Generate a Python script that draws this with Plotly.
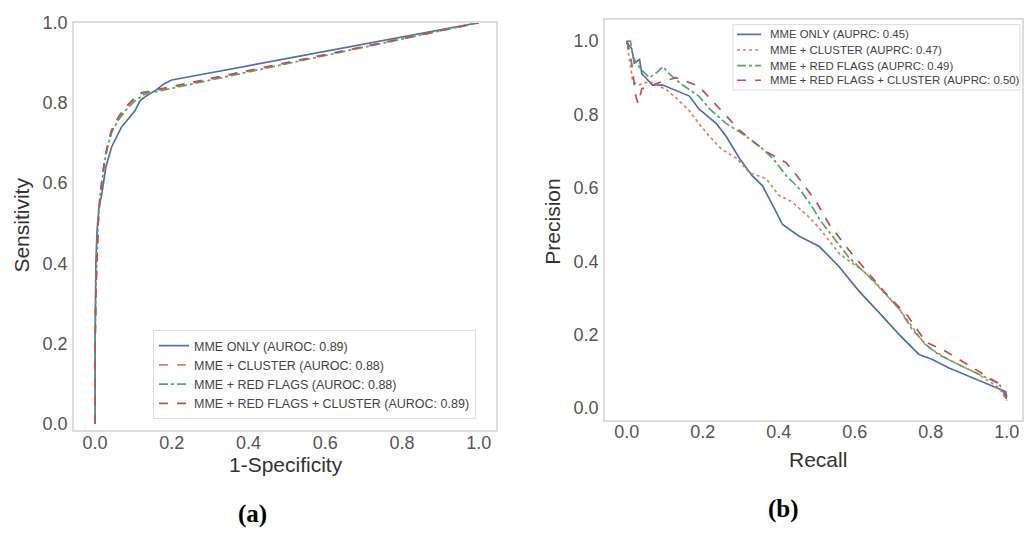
import plotly.graph_objects as go

# ROC curves (panel a)
roc_fpr_mme = [0, 0.0, 0.002, 0.005, 0.01, 0.017, 0.028, 0.043, 0.069, 0.09, 0.104, 0.117, 0.13, 0.156, 0.18, 0.2, 1.0]
roc_tpr_mme = [0, 0.2, 0.4, 0.48, 0.54, 0.57, 0.64, 0.69, 0.74, 0.765, 0.78, 0.805, 0.815, 0.83, 0.848, 0.857, 1.0]

roc_fpr_cluster = [0, 0.0, 0.002, 0.004, 0.008, 0.013, 0.02, 0.026, 0.035, 0.043, 0.055, 0.065, 0.085, 0.104, 0.115, 1.0]
roc_tpr_cluster = [0, 0.2, 0.33, 0.40, 0.5, 0.57, 0.63, 0.665, 0.7, 0.728, 0.752, 0.768, 0.792, 0.81, 0.822, 1.0]

roc_fpr_flags = [0, 0.0, 0.002, 0.004, 0.008, 0.013, 0.02, 0.026, 0.035, 0.043, 0.055, 0.065, 0.085, 0.104, 0.13, 1.0]
roc_tpr_flags = [0, 0.2, 0.33, 0.40, 0.5, 0.57, 0.625, 0.66, 0.7, 0.725, 0.748, 0.763, 0.787, 0.805, 0.822, 1.0]

roc_fpr_all = [0, 0.0, 0.002, 0.004, 0.008, 0.013, 0.02, 0.026, 0.035, 0.043, 0.055, 0.065, 0.085, 0.104, 0.12, 1.0]
roc_tpr_all = [0, 0.2, 0.33, 0.40, 0.5, 0.57, 0.63, 0.667, 0.705, 0.732, 0.755, 0.771, 0.795, 0.813, 0.825, 1.0]

# Precision-recall curves (panel b)
pr_rec_mme = [0, 0.005, 0.013, 0.02, 0.034, 0.04, 0.05, 0.068, 0.095, 0.13, 0.165, 0.19, 0.236, 0.262, 0.297,
              0.33, 0.357, 0.384, 0.41, 0.454, 0.507, 0.559, 0.61, 0.664, 0.717, 0.769, 0.803, 0.848, 0.927, 0.997, 1.0]
pr_prec_mme = [1.0, 0.99, 0.98, 0.94, 0.95, 0.91, 0.9, 0.88, 0.88, 0.865, 0.85, 0.815, 0.775, 0.74, 0.68,
               0.633, 0.606, 0.553, 0.5, 0.468, 0.44, 0.385, 0.32, 0.26, 0.2, 0.146, 0.133, 0.109, 0.074, 0.045, 0.03]

pr_rec_cluster = [0, 0.004, 0.01, 0.016, 0.03, 0.06, 0.105, 0.13, 0.165, 0.19, 0.218, 0.25, 0.29, 0.323, 0.367,
                  0.4, 0.436, 0.48, 0.507, 0.56, 0.63, 0.717, 0.787, 0.85, 0.92, 0.98, 1.0]
pr_prec_cluster = [1.0, 0.97, 0.925, 0.89, 0.88, 0.89, 0.867, 0.845, 0.81, 0.775, 0.74, 0.705, 0.68, 0.641, 0.625,
                   0.58, 0.561, 0.52, 0.49, 0.42, 0.367, 0.27, 0.17, 0.13, 0.095, 0.055, 0.02]

pr_rec_flags = [0, 0.01, 0.016, 0.025, 0.04, 0.06, 0.08, 0.095, 0.113, 0.147, 0.19, 0.218, 0.262, 0.305, 0.35,
                0.385, 0.42, 0.454, 0.49, 0.51, 0.585, 0.656, 0.717, 0.75, 0.787, 0.82, 0.89, 0.98, 1.0]
pr_prec_flags = [1.0, 1.0, 0.96, 0.94, 0.92, 0.9, 0.915, 0.93, 0.91, 0.88, 0.85, 0.815, 0.775, 0.747, 0.713,
                 0.68, 0.633, 0.598, 0.545, 0.51, 0.41, 0.34, 0.27, 0.216, 0.173, 0.146, 0.11, 0.066, 0.025]

pr_rec_all = [0, 0.008, 0.013, 0.02, 0.024, 0.03, 0.04, 0.06, 0.095, 0.13, 0.157, 0.19, 0.218, 0.262, 0.297,
              0.34, 0.375, 0.42, 0.454, 0.5, 0.533, 0.585, 0.63, 0.68, 0.74, 0.787, 0.84, 0.91, 0.98, 0.998, 1.0]
pr_prec_all = [1.0, 0.97, 0.94, 0.89, 0.85, 0.83, 0.87, 0.877, 0.89, 0.9, 0.89, 0.877, 0.845, 0.795, 0.757,
               0.72, 0.694, 0.668, 0.625, 0.56, 0.5, 0.43, 0.375, 0.314, 0.25, 0.18, 0.154, 0.11, 0.066, 0.03, 0.01]

roc_names = ["MME ONLY (AUROC: 0.89)", "MME + CLUSTER (AUROC: 0.88)",
             "MME + RED FLAGS (AUROC: 0.88)", "MME + RED FLAGS + CLUSTER (AUROC: 0.89)"]
pr_names = ["MME ONLY (AUPRC: 0.45)", "MME + CLUSTER (AUPRC: 0.47)",
            "MME + RED FLAGS (AUPRC: 0.49)", "MME + RED FLAGS + CLUSTER (AUPRC: 0.50)"]
tick_vals = [0.0, 0.2, 0.4, 0.6, 0.8, 1.0]
tick_text = ["0.0", "0.2", "0.4", "0.6", "0.8", "1.0"]

colors = ["#4C72B0", "#DD8452", "#55A868", "#C44E52"]
roc_dash = ["solid", "dash", "dashdot", "dash"]
pr_dash = ["solid", "dot", "dashdot", "dash"]

FONT = "Liberation Sans, Arial, sans-serif"
W, H = 1024, 533


def px(x):
    return x / W


def py(y):
    return 1 - y / H


fig = go.Figure()

roc_series = [(roc_fpr_mme, roc_tpr_mme), (roc_fpr_cluster, roc_tpr_cluster),
              (roc_fpr_flags, roc_tpr_flags), (roc_fpr_all, roc_tpr_all)]
for i, (xs, ys) in enumerate(roc_series):
    fig.add_trace(go.Scatter(x=xs, y=ys, mode="lines", name=roc_names[i],
                             line=dict(color=colors[i], width=1.7, dash=roc_dash[i]),
                             xaxis="x", yaxis="y", legend="legend"))

pr_series = [(pr_rec_mme, pr_prec_mme), (pr_rec_cluster, pr_prec_cluster),
             (pr_rec_flags, pr_prec_flags), (pr_rec_all, pr_prec_all)]
for i, (xs, ys) in enumerate(pr_series):
    fig.add_trace(go.Scatter(x=xs, y=ys, mode="lines", name=pr_names[i], showlegend=False,
                             line=dict(color=colors[i], width=1.7, dash=pr_dash[i]),
                             xaxis="x2", yaxis="y2"))

axis_common = dict(showgrid=False, zeroline=False, showline=True, mirror=True,
                   linecolor="#dddddd", linewidth=1.5, ticks="", ticklen=0,
                   tickvals=tick_vals, ticktext=tick_text,
                   tickfont=dict(family=FONT, size=18, color="#555555"))

fig.update_layout(
    width=W, height=H,
    margin=dict(l=0, r=0, t=0, b=0),
    paper_bgcolor="white", plot_bgcolor="white",
    font=dict(family=FONT),
    xaxis=dict(domain=[px(74), px(496)], range=[-0.055, 1.045], anchor="y",
               ticklabelstandoff=-5, **axis_common),
    yaxis=dict(domain=[py(431), py(13)], range=[-0.017, 1.0], anchor="x",
               ticklabelstandoff=1, **axis_common),
    xaxis2=dict(domain=[px(605), px(1022)], range=[-0.057, 1.04], anchor="y2",
                ticklabelstandoff=-5, **axis_common),
    yaxis2=dict(domain=[py(420), py(10)], range=[-0.032, 1.058], anchor="x2",
                ticklabelstandoff=1, **axis_common),
    legend=dict(x=px(153), y=py(328), xanchor="left", yanchor="top",
                bgcolor="white", bordercolor="#dddddd", borderwidth=1,
                font=dict(family=FONT, size=12.5, color="#444444"), tracegroupgap=0),
    showlegend=True,
)

# Legend box for the precision-recall panel
leg_left, leg_right, leg_top, leg_bottom = 733, 1020, 15, 82
fig.add_shape(type="rect", xref="paper", yref="paper", layer="above",
              x0=px(leg_left), x1=px(leg_right), y0=py(leg_bottom), y1=py(leg_top),
              line=dict(color="#dddddd", width=1), fillcolor="white")
row_y = [25, 41, 57, 72]
for i in range(4):
    fig.add_shape(type="line", xref="paper", yref="paper", layer="above",
                  x0=px(737), x1=px(761), y0=py(row_y[i]), y1=py(row_y[i]),
                  line=dict(color=colors[i], width=1.7, dash=pr_dash[i]))
    fig.add_annotation(text=pr_names[i], x=px(768), y=py(row_y[i]), xref="paper", yref="paper",
                       showarrow=False, xanchor="left", yanchor="middle",
                       font=dict(family=FONT, size=11.4, color="#444444"))

title_font = dict(family=FONT, size=21, color="#333333")
caption_font = dict(family="Liberation Serif, Times New Roman, serif", size=25, color="black")

fig.add_annotation(text="1-Specificity", x=px(286), y=py(466), xref="paper", yref="paper",
                   showarrow=False, font=title_font, xanchor="center", yanchor="middle")
fig.add_annotation(text="Sensitivity", x=px(22), y=py(221), xref="paper", yref="paper",
                   showarrow=False, font=title_font, textangle=-90, xanchor="center", yanchor="middle")
fig.add_annotation(text="Recall", x=px(818), y=py(461), xref="paper", yref="paper",
                   showarrow=False, font=title_font, xanchor="center", yanchor="middle")
fig.add_annotation(text="Precision", x=px(553), y=py(217), xref="paper", yref="paper",
                   showarrow=False, font=title_font, textangle=-90, xanchor="center", yanchor="middle")
fig.add_annotation(text="<b>(a)</b>", x=px(252), y=py(517), xref="paper", yref="paper",
                   showarrow=False, font=caption_font, xanchor="center", yanchor="middle")
fig.add_annotation(text="<b>(b)</b>", x=px(783), y=py(511), xref="paper", yref="paper",
                   showarrow=False, font=caption_font, xanchor="center", yanchor="middle")

fig.write_html("out.html")
